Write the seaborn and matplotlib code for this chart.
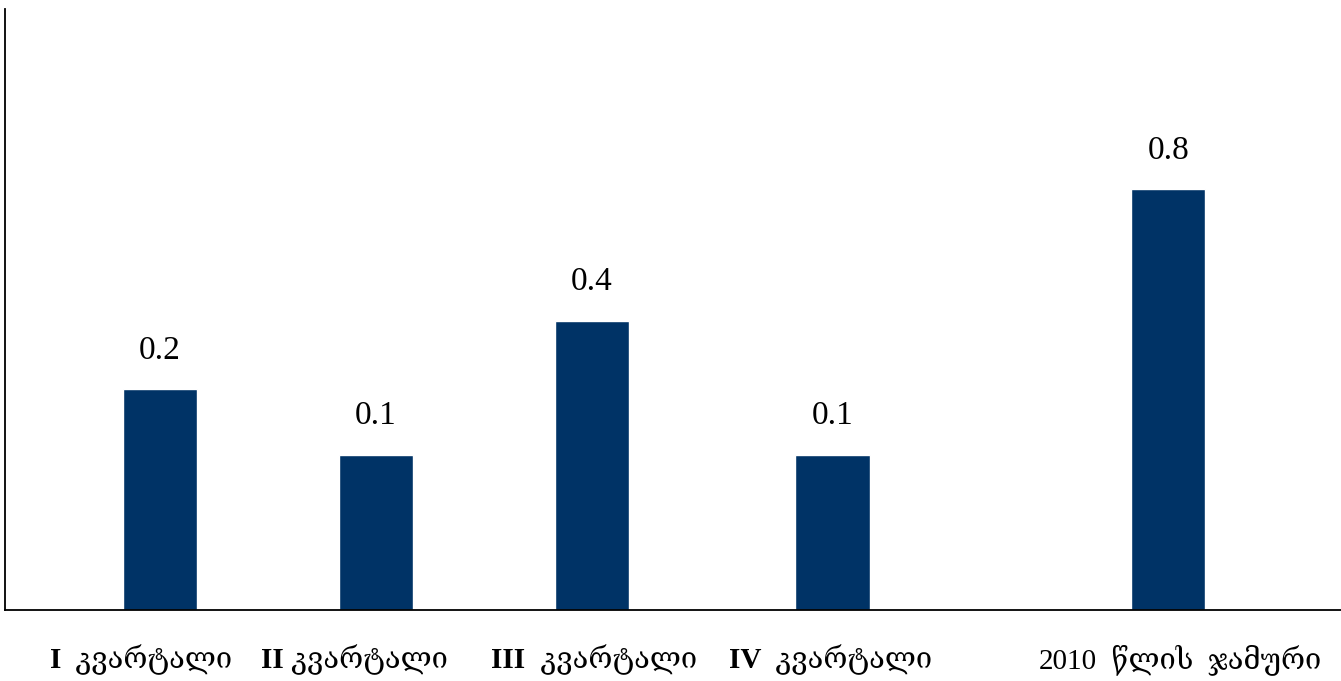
import pandas as pd
import matplotlib
matplotlib.use("Agg")
import matplotlib.pyplot as plt
from matplotlib.offsetbox import TextArea, HPacker, AnnotationBbox
import seaborn as sns

# --- données ---
categories = ["I  კვარტალი", "II კვარტალი", "III  კვარტალი", "IV  კვარტალი", "2010  წლის  ჯამური"]
bar_values = [0.42, 0.295, 0.55, 0.295, 0.8]
value_labels = ["0.2", "0.1", "0.4", "0.1", "0.8"]

# mise en page : positions des barres (espacement irrégulier comme l'original)
x_pos = [1, 2, 3, 4.113, 5.667]
label_shift_px = [-19, -22, 2, -2, 12]
prefix_bold = [True, True, True, True, False]

df = pd.DataFrame({"x": x_pos, "valeur": bar_values})

sns.set_theme(style="white")
serif = ["Liberation Serif", "DejaVu Serif", "DejaVu Sans"]
plt.rcParams["font.family"] = serif
plt.rcParams["text.color"] = "black"

fig = plt.figure(figsize=(13.41, 6.81), dpi=100)
ax = fig.add_axes([5 / 1341, 71 / 681, 1336 / 1341, 601 / 681])

sns.barplot(data=df, x="x", y="valeur", native_scale=True, color="#003366",
            saturation=1, width=0.343, errorbar=None, ax=ax)

ax.set_xlim(0.282, 6.467)
ax.set_ylim(0, 1.143)

ax.bar_label(ax.containers[0], labels=value_labels, padding=17, fontsize=24, color="black")

# étiquettes de catégories : chiffre romain en gras + texte géorgien normal
ax.set_xticks([])
for x, cat, dx, bold in zip(x_pos, categories, label_shift_px, prefix_bold):
    prefix, rest = cat.split(" ", 1)
    p1 = TextArea(prefix, textprops=dict(fontsize=21, family=serif, color="black",
                                         fontweight="bold" if bold else "normal"))
    p2 = TextArea(" " + rest, textprops=dict(fontsize=21, family=serif, color="black"))
    box = HPacker(children=[p1, p2], align="baseline", pad=0, sep=0)
    ab = AnnotationBbox(box, (x, 0), xycoords="data", xybox=(dx * 0.72, -50 * 0.72),
                        boxcoords="offset points", box_alignment=(0.5, 0.5),
                        frameon=False, pad=0, annotation_clip=False)
    ax.add_artist(ab)

ax.set_yticks([])
ax.set_xlabel("")
ax.set_ylabel("")

sns.despine(ax=ax, top=True, right=True)
for s in ["left", "bottom"]:
    ax.spines[s].set_color("black")
    ax.spines[s].set_linewidth(1.3)

fig.savefig("out.png", dpi=100)
